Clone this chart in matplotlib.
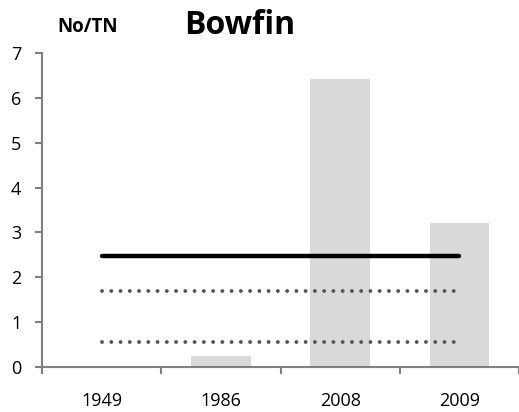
import matplotlib
matplotlib.use("Agg")
import matplotlib.pyplot as plt
import numpy as np

categories = ["1949", "1986", "2008", "2009"]
bar_values = [0.0, 0.25, 6.43, 3.22]
mean_value = 2.47
upper_value = 1.70
lower_value = 0.55

plt.rcParams['font.family'] = ['Open Sans', 'DejaVu Sans']

fig = plt.figure(figsize=(5.19, 4.12), dpi=100)
ax = fig.add_axes([42/519, 1-367/412, 1-42/519, (367-53)/412])

x = np.arange(len(categories))
ax.bar(x, bar_values, width=0.5, color="#d9d9d9", zorder=1)
ax.plot([x[0], x[-1]], [mean_value]*2, color="black", lw=3.2,
        solid_capstyle="round", zorder=3)
for v in (upper_value, lower_value):
    ax.plot([x[0], x[-1]], [v]*2, color="#555555", lw=2.8,
            linestyle=(0, (0.01, 2.37)), dash_capstyle="round", zorder=3)

ax.set_xlim(-0.5, 3.5)
ax.set_ylim(0, 7)
ax.set_yticks(range(0, 8))
ax.set_xticks(x)
ax.set_xticklabels(categories)
ax.set_xticks(np.arange(-0.5, 3.6, 1.0), minor=True)
ax.tick_params(axis="x", which="major", length=0, pad=18, labelsize=13)
ax.tick_params(axis="x", which="minor", length=5, width=1.5, color="#808080", direction="out")
ax.tick_params(axis="y", length=5, width=1.5, color="#808080", pad=10, labelsize=13)

for s in ("top", "right"):
    ax.spines[s].set_visible(False)
for s in ("left", "bottom"):
    ax.spines[s].set_color("#808080")
    ax.spines[s].set_linewidth(1.5)

fig.text(240/519, 1-34.3/412, "Bowfin", ha="center", va="baseline",
         fontsize=23, fontweight="bold")
fig.text(87.7/519, 1-31.7/412, "No/TN", ha="center", va="baseline",
         fontsize=13.5, fontweight="bold")

fig.savefig("out.png", dpi=100)
